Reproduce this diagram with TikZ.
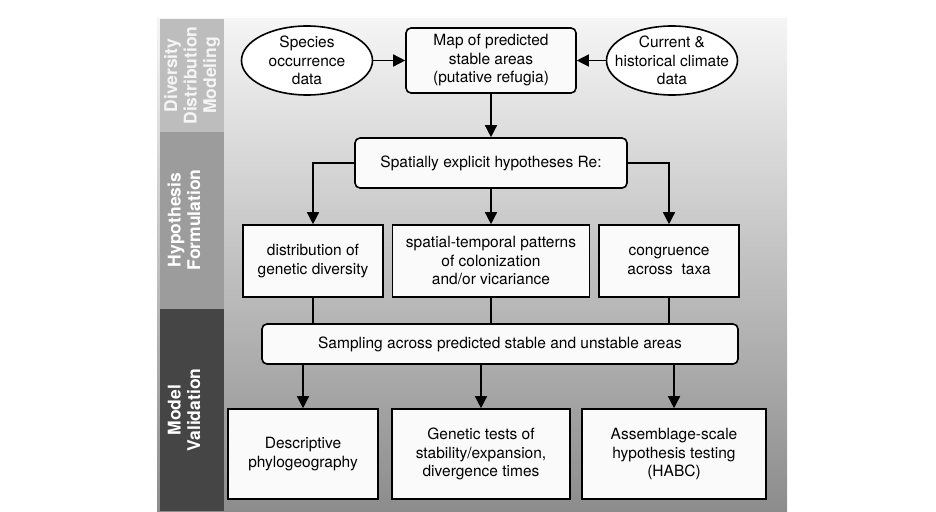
\documentclass[tikz,border=0pt]{standalone}
\usepackage{fontspec}
\setmainfont{TeX Gyre Heros}
\usetikzlibrary{arrows.meta,shapes.geometric}
\usetikzlibrary{positioning}
\tikzset{
    block/.style={
           rectangle,
           draw=black, line width=1.6pt,
           fill=white!98!black,
           inner sep=2pt,
           align=center,
           font=\fontsize{15.5}{18.5}\selectfont,
           },
    rblock/.style={block, rounded corners=5pt},
    datum/.style={
           ellipse,
           draw=black, line width=1.6pt,
           fill=white,
           inner xsep=-12pt, inner ysep=-4pt,
           minimum width=131pt, minimum height=69pt,
           align=center,
           font=\fontsize{15.5}{18.5}\selectfont,
           },
    band/.style={
           rotate=90, text=white, align=center,
           font=\fontsize{17.5}{19.5}\selectfont\bfseries,
           },
}

\begin{document}
\begin{tikzpicture}[x=1pt,y=-1pt,>={Triangle[width=12pt,length=12pt]},line width=1.4pt]
        \useasboundingbox (0,0) rectangle (936,511);
        % background and the three phase bands
        \shade[top color=black!4, middle color=black!18, bottom color=black!45] (157,19) rectangle (787,511);
        \fill[black!26] (160,19) rectangle (224,132);
        \fill[black!39] (160,132) rectangle (224,309);
        \fill[black!73] (160,309) rectangle (224,511);
        \node[band, text=white!96!black] (ddm) at (192,75.5) {Diversity\\Distribution\\Modeling};
        \node[band] (hf) at (184,220) {Hypothesis\\Formulation};
        \node[band] (mv) at (184,410) {Model\\Validation};

        \node[rblock, minimum width=170pt, minimum height=65pt] (map) at (491,60.5) {Map of predicted\\stable areas\\(putative refugia)};
        \node[datum, left of = map, node distance=184pt] (occ) {Species\\occurrence\\data};
        \node[datum, right of = map, node distance=181pt] (clim) {Current \&\\historical climate\\data};
        \node[rblock, below of = map, minimum width=272pt, minimum height=50pt, node distance=102.5pt] (spat) {Spatially explicit hypotheses Re:};
        \node[block, below of = spat, minimum width=197pt, minimum height=72pt, node distance=98pt] (pat) {spatial-temporal patterns\\of colonization\\and/or vicariance};
        \node[block, left of = pat, minimum width=140pt, minimum height=72pt, node distance=178pt] (dist) {distribution of\\genetic diversity};
        \node[block, right of = pat, minimum width=140pt, minimum height=72pt, node distance=178pt] (cong) {congruence\\across\ \ taxa};
        \node[rblock, below of = pat, minimum width=476pt, minimum height=40pt, xshift=9pt, node distance=83pt] (samp) {Sampling across predicted stable and unstable areas};
        \node[block, below of = samp, minimum width=178pt, minimum height=90pt, xshift=-19pt, node distance=110pt] (gen) {Genetic tests of\\stability/expansion,\\divergence times};
        \node[block, left of = gen, minimum width=150pt, minimum height=90pt, node distance=178pt] (desc) {Descriptive\\phylogeography};
        \node[block, right of = gen, minimum width=184pt, minimum height=90pt, node distance=193pt] (abc) {Assemblage-scale\\hypothesis testing\\(HABC)};

        \path[->] (occ) edge (map)
        (clim) edge (map)
        (map) edge (spat)
        (spat) edge (pat)
        (samp.south -| desc) edge (desc)
        (samp.south -| gen) edge (gen)
        (samp.south -| abc) edge (abc);
        \draw[->] (spat.west) -| (dist);
        \draw[->] (spat.east) -| (cong);
        \path (dist) edge (dist |- samp.north)
        (pat) edge (pat |- samp.north)
        (cong) edge (cong |- samp.north);
    \end{tikzpicture}
\end{document}
